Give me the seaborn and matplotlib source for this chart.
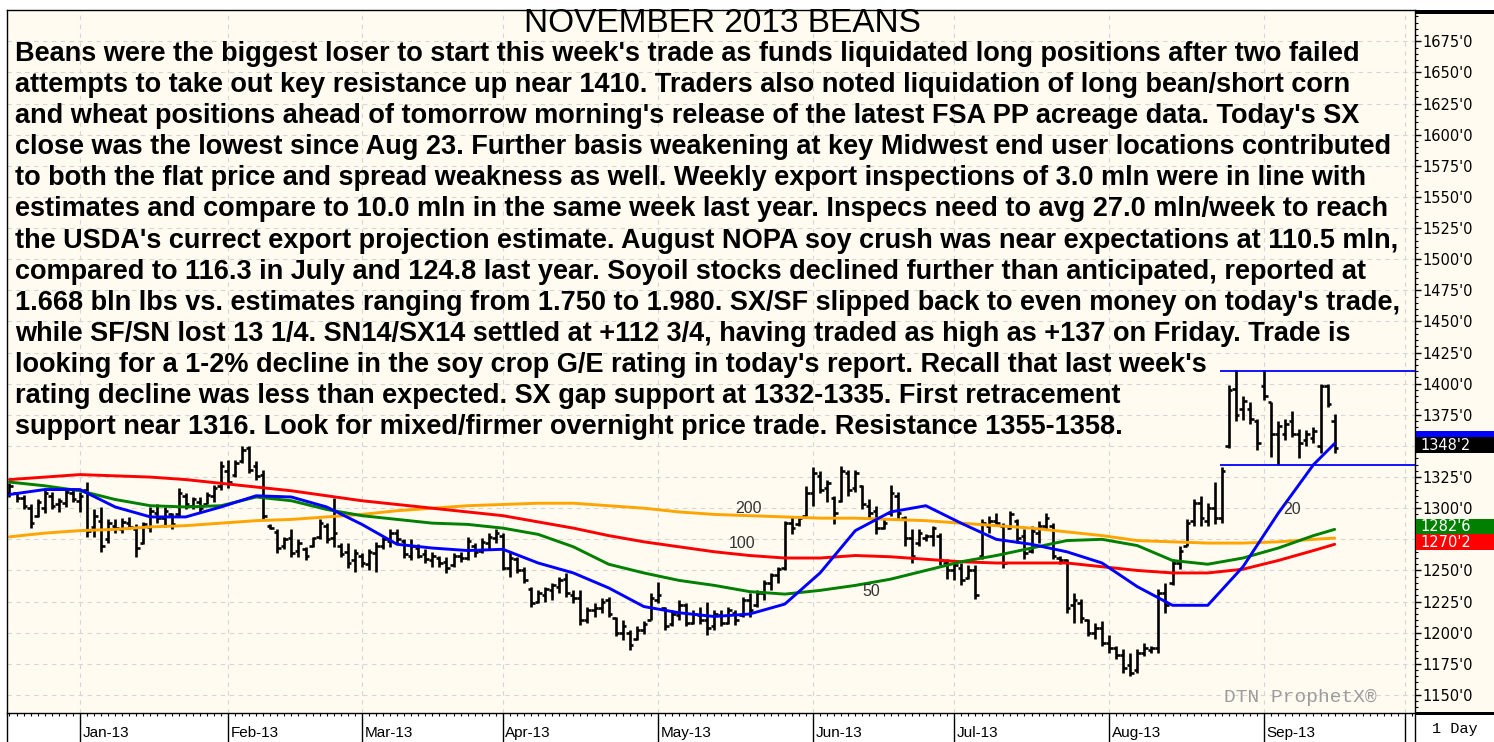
import numpy as np
import pandas as pd
import matplotlib
matplotlib.use("Agg")
import matplotlib.pyplot as plt
import matplotlib.ticker as mtick
import matplotlib.transforms as mtransforms
from matplotlib.patches import Rectangle
from matplotlib.lines import Line2D
import seaborn as sns

# Daily bars, trading-day index 0 = 17 Dec 2012
bar_high = [
    1320, 1313, 1311, 1303, 1307, 1315, 1313, 1308, 1315, 1316,
    1313, 1321, 1299, 1301, 1291, 1291, 1292, 1293, 1287, 1289,
    1301, 1303, 1301, 1296, 1316, 1312, 1309, 1309, 1313, 1319,
    1338, 1339, 1339, 1350, 1350, 1338, 1331, 1287, 1283, 1277,
    1283, 1275, 1269, 1277, 1291, 1288, 1308, 1272, 1272, 1267,
    1264, 1267, 1273, 1277, 1283, 1283, 1275, 1275, 1271, 1267,
    1265, 1262, 1261, 1264, 1265, 1277, 1272, 1276, 1280, 1283,
    1280,
    1265, 1261, 1253, 1237, 1234, 1237, 1240, 1245, 1248,
    1234, 1234, 1221, 1224, 1228, 1229, 1213, 1210, 1202, 1205,
    1209, 1232, 1241, 1221, 1218, 1226, 1224, 1218, 1221,
    1225, 1218, 1218, 1221, 1218, 1229, 1232, 1234, 1242, 1248, 1253, 1290,
    1294, 1294, 1318, 1333, 1330,
    1323, 1310, 1334, 1331, 1331, 1319, 1307, 1302, 1291, 1319,
    1313, 1294, 1283, 1283, 1279, 1286, 1280, 1259, 1257,
    1256, 1254, 1254, 1291, 1294, 1296, 1288, 1298, 1291, 1283, 1286, 1290,
    1296, 1288, 1262, 1259, 1232, 1227, 1211, 1208, 1209, 1198,
    1189, 1187, 1184, 1187, 1192, 1189, 1235, 1240, 1259, 1270,
    1291, 1307, 1310, 1304, 1321, 1333,
    1399, 1411, 1390, 1385, 1372, 1411, 1385, 1370, 1372, 1378,
    1364, 1363, 1365, 1400, 1400, 1376,
]
bar_low = [
    1309, 1305, 1299, 1284, 1293, 1296, 1299, 1297, 1301, 1305,
    1297, 1277, 1277, 1265, 1272, 1280, 1280, 1283, 1261, 1271,
    1281, 1288, 1285, 1283, 1293, 1299, 1299, 1297, 1303, 1305,
    1315, 1316, 1325, 1336, 1328, 1323, 1291, 1283, 1264, 1267,
    1261, 1261, 1258, 1269, 1275, 1272, 1269, 1261, 1252, 1249,
    1253, 1250, 1249, 1267, 1269, 1272, 1260, 1258, 1260, 1256,
    1253, 1253, 1248, 1253, 1257, 1258, 1261, 1264, 1267, 1272,
    1250,
    1245, 1248, 1240, 1221, 1224, 1225, 1226, 1232, 1229,
    1224, 1206, 1208, 1213, 1216, 1213, 1197, 1194, 1186, 1194,
    1199, 1210, 1224, 1202, 1205, 1210, 1205, 1207, 1207,
    1198, 1202, 1205, 1207, 1206, 1213, 1213, 1221, 1226, 1234, 1240, 1250,
    1279, 1286, 1294, 1302, 1312,
    1305, 1287, 1305, 1310, 1313, 1299, 1292, 1279, 1283, 1294,
    1291, 1270, 1256, 1270, 1274, 1270, 1254, 1243, 1242,
    1238, 1243, 1227, 1259, 1280, 1286, 1252, 1283, 1272, 1259, 1264, 1272,
    1283, 1259, 1255, 1216, 1208, 1208, 1197, 1195, 1189, 1184,
    1179, 1168, 1165, 1168, 1181, 1184, 1184, 1216, 1238, 1251,
    1270, 1286, 1286, 1286, 1287, 1288,
    1348, 1370, 1371, 1368, 1347, 1387, 1341, 1335, 1355, 1357,
    1340, 1350, 1352, 1344, 1381, 1344,
]
bar_open = [
    1312, 1312, 1308, 1300, 1294, 1300, 1310, 1303, 1304, 1312,
    1306, 1315, 1285, 1290, 1275, 1286, 1283, 1288, 1283, 1272,
    1285, 1296, 1292, 1295, 1295, 1310, 1302, 1305, 1303, 1310,
    1318, 1330, 1327, 1338, 1348, 1334, 1327, 1286, 1281, 1270,
    1276, 1266, 1267, 1270, 1277, 1286, 1276, 1270, 1265, 1258,
    1262, 1255, 1264, 1270, 1274, 1280, 1274, 1262, 1268, 1263,
    1258, 1260, 1257, 1254, 1262, 1260, 1270, 1266, 1272, 1276,
    1278,
    1252, 1259, 1250, 1235, 1225, 1230, 1234, 1237, 1243,
    1230, 1228, 1210, 1218, 1220, 1226, 1212, 1200, 1200, 1195,
    1202, 1210, 1226, 1220, 1207, 1214, 1222, 1208, 1214,
    1210, 1205, 1214, 1208, 1216, 1214, 1226, 1222, 1232, 1240, 1246, 1252,
    1288, 1287, 1294, 1312, 1326,
    1316, 1308, 1306, 1328, 1316, 1318, 1302, 1298, 1284, 1296,
    1310, 1292, 1276, 1272, 1276, 1278, 1278, 1256, 1250,
    1252, 1244, 1250, 1262, 1286, 1290, 1286, 1284, 1290, 1278, 1266, 1280,
    1286, 1286, 1260, 1258, 1222, 1224, 1210, 1200, 1204, 1192,
    1188, 1182, 1174, 1170, 1184, 1186, 1188, 1232, 1240, 1256,
    1270, 1290, 1304, 1290, 1300, 1292,
    1350, 1396, 1380, 1380, 1370, 1398, 1385, 1360, 1360, 1370,
    1360, 1355, 1356, 1350, 1398, 1370,
]
bar_close = [
    1318, 1308, 1302, 1288, 1305, 1312, 1302, 1306, 1313, 1307,
    1310, 1282, 1294, 1270, 1288, 1284, 1289, 1285, 1268, 1287,
    1298, 1292, 1298, 1287, 1312, 1303, 1307, 1300, 1311, 1316,
    1334, 1321, 1336, 1347, 1331, 1326, 1294, 1284, 1268, 1275,
    1264, 1272, 1262, 1276, 1288, 1275, 1280, 1263, 1256, 1264,
    1256, 1265, 1270, 1275, 1280, 1275, 1263, 1270, 1262, 1259,
    1262, 1256, 1252, 1262, 1260, 1274, 1265, 1273, 1277, 1280,
    1252,
    1260, 1250, 1242, 1224, 1232, 1235, 1238, 1242, 1232,
    1228, 1210, 1218, 1220, 1225, 1215, 1200, 1205, 1190, 1202,
    1207, 1228, 1230, 1205, 1215, 1222, 1208, 1215, 1210,
    1204, 1215, 1208, 1218, 1210, 1226, 1218, 1232, 1240, 1246, 1251, 1288,
    1284, 1292, 1312, 1328, 1315,
    1320, 1296, 1330, 1315, 1328, 1303, 1296, 1284, 1288, 1312,
    1296, 1276, 1262, 1280, 1278, 1284, 1258, 1250, 1254,
    1242, 1250, 1230, 1288, 1290, 1288, 1256, 1295, 1276, 1264, 1282, 1286,
    1292, 1262, 1258, 1220, 1226, 1212, 1200, 1204, 1192, 1188,
    1182, 1172, 1168, 1184, 1188, 1188, 1232, 1222, 1256, 1266,
    1288, 1304, 1292, 1300, 1292, 1330,
    1395, 1375, 1386, 1372, 1352, 1390, 1360, 1366, 1368, 1360,
    1352, 1360, 1362, 1398, 1384, 1348,
]

# moving averages, read every 5 trading days
ma_day = [0, 5, 10, 15, 20, 25, 30, 35, 40, 45, 50, 55, 60, 65, 70, 75, 80, 85, 90,
          95, 100, 105, 110, 115, 120, 125, 130, 135, 140, 145, 150, 155, 160, 165,
          170, 175, 180, 185, 188]
ma20 = [1311, 1315, 1315, 1301, 1293, 1293, 1301, 1310, 1309, 1301, 1287, 1271, 1268,
        1266, 1267, 1256, 1248, 1236, 1221, 1216, 1213, 1215, 1223, 1248, 1282, 1297,
        1302, 1288, 1275, 1271, 1265, 1256, 1237, 1222, 1222, 1253, 1296, 1335, 1352]
ma50 = [1321, 1318, 1314, 1307, 1302, 1301, 1302, 1309, 1306, 1299, 1294, 1291, 1288,
        1287, 1284, 1279, 1269, 1255, 1248, 1242, 1238, 1233, 1231, 1234, 1238, 1243,
        1250, 1257, 1262, 1268, 1274, 1275, 1270, 1258, 1255, 1260, 1268, 1278, 1283]
ma100 = [1323, 1325, 1327, 1326, 1325, 1323, 1320, 1317, 1314, 1310, 1306, 1303, 1300,
         1297, 1294, 1289, 1284, 1278, 1273, 1269, 1265, 1262, 1260, 1260, 1262, 1261,
         1259, 1257, 1256, 1256, 1256, 1253, 1250, 1248, 1248, 1251, 1258, 1266, 1271]
ma200 = [1277, 1280, 1282, 1283, 1285, 1286, 1288, 1290, 1291, 1293, 1295, 1298, 1300,
         1302, 1303, 1304, 1304, 1302, 1300, 1297, 1295, 1294, 1293, 1292, 1292, 1291,
         1290, 1288, 1286, 1284, 1281, 1278, 1274, 1273, 1272, 1272, 1273, 1275, 1276]

month_pos = [10, 31, 50, 70, 92, 114, 134, 156, 178, 198]
month_lbl = ["Jan-13", "Feb-13", "Mar-13", "Apr-13", "May-13", "Jun-13",
             "Jul-13", "Aug-13", "Sep-13", ""]

range_top = 1410.5
range_bottom = 1335
range_from = 171.7

badge_val = [1352.75, 1348.25, 1282.75, 1270.25]
badge_txt = ["", "1348'2", "1282'6", "1270'2"]
badge_col = ["#0000ff", "#000000", "#008000", "#ff0000"]

note_lines = [
    "Beans were the biggest loser to start this week's trade as funds liquidated long positions after two failed",
    "attempts to take out key resistance up near 1410. Traders also noted liquidation of long bean/short corn",
    "and wheat positions ahead of tomorrow morning's release of the latest FSA PP acreage data. Today's SX",
    "close was the lowest since Aug 23. Further basis weakening at key Midwest end user locations contributed",
    "to both the flat price and spread weakness as well. Weekly export inspections of 3.0 mln were in line with",
    "estimates and compare to 10.0 mln in the same week last year. Inspecs need to avg 27.0 mln/week to reach",
    "the USDA's currect export projection estimate. August NOPA soy crush was near expectations at 110.5 mln,",
    "compared to 116.3 in July and 124.8 last year. Soyoil stocks declined further than anticipated, reported at",
    "1.668 bln lbs vs. estimates ranging from 1.750 to 1.980. SX/SF slipped back to even money on today's trade,",
    "while SF/SN lost 13 1/4. SN14/SX14 settled at +112 3/4, having traded as high as +137 on Friday. Trade is",
    "looking for a 1-2% decline in the soy crop G/E rating in today's report. Recall that last week's",
    "rating decline was less than expected. SX gap support at 1332-1335. First retracement",
    "support near 1316. Look for mixed/firmer overnight price trade. Resistance 1355-1358.",
]

CREAM = "#fffbf0"

sns.set_theme(style="white")
plt.rcParams["font.family"] = ["Liberation Sans", "DejaVu Sans"]

W, H = 1494, 742
fig = plt.figure(figsize=(W / 100, H / 100), dpi=100)
fig.patch.set_facecolor("white")

# right price panel background (behind the axes)
fig.patches.append(Rectangle((1415 / W, 1 - 713 / H), 79 / W, 703 / H,
                             transform=fig.transFigure, facecolor=CREAM,
                             edgecolor="none", zorder=-5))

ax = fig.add_axes([7 / W, 1 - 713 / H, 1408 / W, 703 / H])
ax.set_facecolor(CREAM)
ax.set_xlim(-0.35, 199.4)
ax.set_ylim(1135.5, 1700.2)
ax.set_axisbelow(True)

# OHLC bars
days = np.arange(len(bar_close))
ax.vlines(days, bar_low, bar_high, color="black", lw=1.9, zorder=2)
ax.hlines(bar_open, days - 0.5, days, color="black", lw=1.9, zorder=2)
ax.hlines(bar_close, days, days + 0.5, color="black", lw=1.9, zorder=2)

# moving averages
n = len(ma_day)
ma_df = pd.DataFrame({
    "day": ma_day * 4,
    "value": ma200 + ma100 + ma50 + ma20,
    "ma": ["200"] * n + ["100"] * n + ["50"] * n + ["20"] * n,
})
sns.lineplot(data=ma_df, x="day", y="value", hue="ma",
             palette={"20": "#0000ff", "50": "#008000", "100": "#ff0000", "200": "#ffa500"},
             hue_order=["200", "100", "50", "20"], lw=2.1, legend=False, ax=ax)

for lbl, xd, yd in [("200", 104.8, 1300), ("100", 104, 1272), ("50", 122.3, 1233), ("20", 182, 1299)]:
    ax.text(xd, yd, lbl, fontsize=11.5, color="#333333", ha="center", va="center")

# trading range lines
ax.hlines([range_top, range_bottom], range_from, 199.4, color="#0000ff", lw=1.3, zorder=3)

# axes styling
for s in ax.spines.values():
    s.set_color("black")
    s.set_linewidth(1)
ax.grid(True, which="major", color="#d6d6d6", ls=(0, (4, 4)), lw=0.8)

ax.yaxis.tick_right()
ax.set_yticks(np.arange(1150, 1676, 25))
ax.yaxis.set_minor_locator(mtick.MultipleLocator(5))
ax.yaxis.set_major_formatter(mtick.FuncFormatter(lambda v, p: f"{int(round(v))}'0"))
ax.tick_params(axis="y", which="major", right=True, left=False, length=4, width=1,
               direction="out", color="black", labelsize=10.5, pad=1,
               labelfontfamily="DejaVu Sans", labelcolor="black")
ax.tick_params(axis="y", which="minor", right=True, left=False, length=2, width=0.8,
               direction="out", color="black")

ax.set_xticks(month_pos)
ax.set_xticklabels([])
ax.set_xticks(np.arange(0, 200), minor=True)
ax.tick_params(axis="x", which="major", bottom=True, length=21, width=1,
               direction="out", color="black")
ax.tick_params(axis="x", which="minor", bottom=True, length=2.5, width=0.8,
               direction="out", color="black")
ax.set_xlabel("")
ax.set_ylabel("")

xtrans = mtransforms.blended_transform_factory(ax.transData, ax.transAxes)
for pos, lbl in zip(month_pos, month_lbl):
    if lbl:
        ax.text(pos + 0.35, -0.029, lbl, transform=xtrans, fontsize=11,
                ha="left", va="center", color="black", clip_on=False)

# last-value badges on the price panel, later ones on top
btrans = mtransforms.blended_transform_factory(ax.transAxes, ax.transData)
for k, (v, t, c) in enumerate(zip(badge_val, badge_txt, badge_col)):
    ax.add_patch(Rectangle((1.0008, v - 3.9), 0.0562, 12.85, transform=btrans,
                           facecolor=c, edgecolor="none", clip_on=False, zorder=6 + 2 * k))
    if t:
        ax.text(1.004, v + 2.5, t, transform=btrans, color="white", fontsize=10.5,
                family="DejaVu Sans", ha="left", va="center", clip_on=False, zorder=7 + 2 * k)

# frame pieces outside the axes
fig.patches.append(Rectangle((1415 / W, 1 - 14 / H), 79 / W, 4 / H, transform=fig.transFigure,
                             facecolor="black", edgecolor="none", zorder=3))
fig.patches.append(Rectangle((1415 / W, 0), 79 / W, (742 - 713) / H, transform=fig.transFigure,
                             facecolor="white", edgecolor="none", zorder=3))
fig.patches.append(Rectangle((1415 / W, 1 - 715 / H), 79 / W, 3 / H, transform=fig.transFigure,
                             facecolor="black", edgecolor="none", zorder=4))
fig.lines.append(Line2D([1415 / W, 1415 / W], [0, 1 - 713 / H], transform=fig.transFigure,
                        color="black", lw=1, zorder=4))
fig.lines.append(Line2D([7 / W, 7 / W], [0, 1 - 713 / H], transform=fig.transFigure,
                        color="black", lw=1, zorder=4))
fig.text(1455 / W, 1 - 729 / H, "1 Day", family="Liberation Mono", fontsize=11,
         ha="center", va="center", color="black", zorder=5)

fig.text(1300 / W, 1 - 697 / H, "DTN ProphetX\u00ae", family="Liberation Mono", fontsize=14,
         ha="center", va="center", color="#9c9c9c")

# title and commentary
fig.text(722 / W, 1 - 24 / H, "NOVEMBER 2013 BEANS", fontsize=24, ha="center", va="center",
         color="black")
for i, line in enumerate(note_lines):
    fig.text(15 / W, 1 - (54 + i * 31.1) / H, line, fontsize=19.5, fontweight="bold",
             ha="left", va="center", color="black")

fig.savefig("out.png", dpi=100, facecolor="white")
